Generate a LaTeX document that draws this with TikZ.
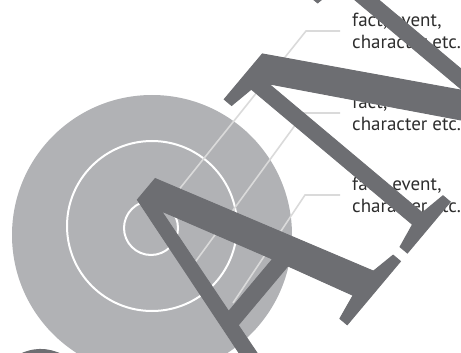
\documentclass[tikz,border=0pt]{standalone}
\usepackage{fontspec}
\setmainfont{PT Sans}
\newfontfamily\markfont[FakeBold=0.3]{Liberation Serif}
\usetikzlibrary{positioning}
\definecolor{diskgray}{RGB}{177,178,181}
\definecolor{leadergray}{RGB}{218,218,218}
\definecolor{markgray}{RGB}{109,110,114}
\definecolor{labeltext}{RGB}{45,45,45}

\begin{document}
\begin{tikzpicture}[x=1pt, y=-1pt,
    label/.style={anchor=west, align=left, inner xsep=12pt, inner ysep=0pt, text=labeltext, font=\fontsize{19}{22.5}\selectfont},
    leader/.style={draw=leadergray, line width=1.6pt},
    ring/.style={draw=white, line width=2pt},
    watermark/.style={anchor=base west, inner sep=0pt, rotate=50, xscale=0.82, text=markgray, font=\markfont\fontsize{365}{365}\selectfont}
]
    \useasboundingbox (0,0) rectangle (461,353);
    \clip (0,0) rectangle (461,353);

    % Disk with rings
    \fill[diskgray] (152,235) circle[radius=140];
    \draw[ring] (152,226) circle[radius=85];
    \draw[ring] (151,228) circle[radius=27];

    % Labels
    \node[label] (lab1) at (340,31) {fact, event,\\character etc.};
    \node[label] (lab2) at (340,113) {fact, event,\\character etc.};
    \node[label] (lab3) at (340,195) {fact, event,\\character etc.};

    % Leaders
    \coordinate (tip1) at (173,197);
    \coordinate (tip2) at (193,265);
    \coordinate (tip3) at (233,303);
    \coordinate (knee1) at (306,31);
    \coordinate (knee2) at (304,113);
    \coordinate (knee3) at (305,195);
    \draw[leader] (tip1) -- (knee1) -- (lab1.west);
    \draw[leader] (tip2) -- (knee2) -- (lab2.west);
    \draw[leader] (tip3) -- (knee3) -- (lab3.west);

    % Watermark
    \node[watermark] (stamp) at (262.6,425.5) {\llap{VOR\kern46pt}\rlap{ANSICHT}};
\end{tikzpicture}
\end{document}
